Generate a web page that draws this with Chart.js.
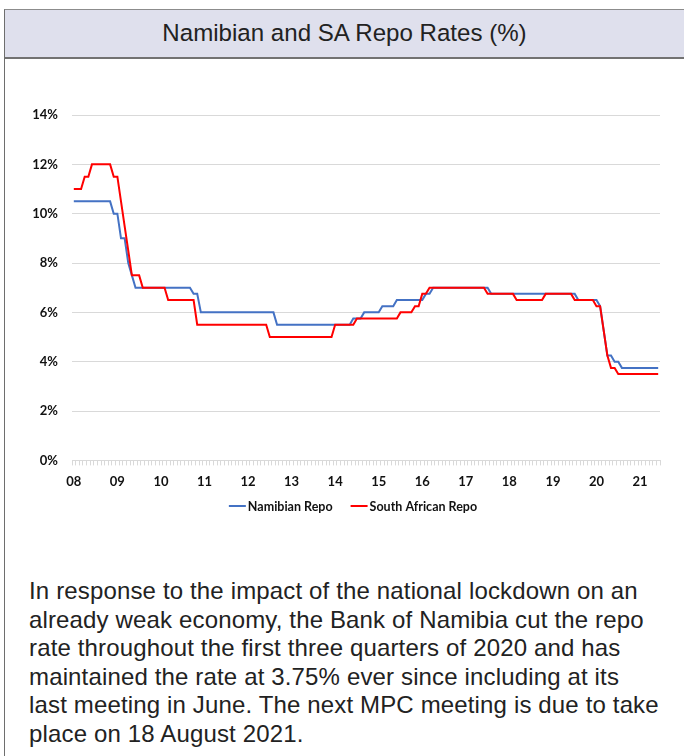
<!DOCTYPE html>
<html>
<head>
<meta charset="utf-8">
<title>Namibian and SA Repo Rates (%)</title>
<script src="https://cdn.jsdelivr.net/npm/chart.js@4/dist/chart.umd.min.js"></script>
<style>
  html, body { margin: 0; padding: 0; background: #ffffff; }
  body { width: 684px; height: 756px; position: relative; overflow: hidden;
         font-family: "Liberation Sans", Arial, Helvetica, sans-serif; }
  .frame { position: absolute; left: 4px; top: 9px; width: 700px; height: 760px;
           border-left: 1px solid #6e6e6e; border-top: 1px solid #8c8c8c; }
  .head { position: absolute; left: 5px; top: 10px; width: 679px; height: 47px;
          background: #dfe0ed; border-bottom: 2px solid #727272; }
  .head span { position: absolute; left: 0; right: 0; top: 10px; text-align: center;
               font-size: 24.1px; line-height: 26px; color: #222222; }
  #wrap { position: absolute; left: 0; top: 60px; width: 684px; height: 470px; }
  .note { position: absolute; left: 29px; top: 577px; font-size: 24px; letter-spacing: 0.15px;
          line-height: 28.6px; color: #222222; white-space: nowrap; }
</style>
</head>
<body>
<div class="frame"></div>
<div class="head"><span>Namibian and SA Repo Rates (%)</span></div>
<div id="wrap"><canvas id="chart" width="684" height="470"></canvas></div>
<div class="note">In response to the impact of the national lockdown on an<br>already weak economy, the Bank of Namibia cut the repo<br>rate throughout the first three quarters of 2020 and has<br>maintained the rate at 3.75% ever since including at its<br>last meeting in June. The next MPC meeting is due to take<br>place on 18 August 2021.</div>
<script>
// Monthly observations, January 2008 to June 2021
const years = ['08','09','10','11','12','13','14','15','16','17','18','19','20','21'];

const namibianRepo = [
  10.5,10.5,10.5,10.5,10.5,10.5,10.5,10.5,10.5,10.5,10.5,10.0,   // 2008
  10.0,9.0,9.0,8.0,7.5,7.0,7.0,7.0,7.0,7.0,7.0,7.0,              // 2009
  7.0,7.0,7.0,7.0,7.0,7.0,7.0,7.0,7.0,6.75,6.75,6.0,             // 2010
  6.0,6.0,6.0,6.0,6.0,6.0,6.0,6.0,6.0,6.0,6.0,6.0,               // 2011
  6.0,6.0,6.0,6.0,6.0,6.0,6.0,6.0,5.5,5.5,5.5,5.5,               // 2012
  5.5,5.5,5.5,5.5,5.5,5.5,5.5,5.5,5.5,5.5,5.5,5.5,               // 2013
  5.5,5.5,5.5,5.5,5.5,5.75,5.75,5.75,6.0,6.0,6.0,6.0,            // 2014
  6.0,6.25,6.25,6.25,6.25,6.5,6.5,6.5,6.5,6.5,6.5,6.5,           // 2015
  6.5,6.75,6.75,7.0,7.0,7.0,7.0,7.0,7.0,7.0,7.0,7.0,             // 2016
  7.0,7.0,7.0,7.0,7.0,7.0,7.0,6.75,6.75,6.75,6.75,6.75,          // 2017
  6.75,6.75,6.75,6.75,6.75,6.75,6.75,6.75,6.75,6.75,6.75,6.75,   // 2018
  6.75,6.75,6.75,6.75,6.75,6.75,6.75,6.5,6.5,6.5,6.5,6.5,        // 2019
  6.5,6.25,5.25,4.25,4.25,4.0,4.0,3.75,3.75,3.75,3.75,3.75,      // 2020
  3.75,3.75,3.75,3.75,3.75,3.75                                  // 2021
];

const southAfricanRepo = [
  11.0,11.0,11.0,11.5,11.5,12.0,12.0,12.0,12.0,12.0,12.0,11.5,   // 2008
  11.5,10.5,9.5,8.5,7.5,7.5,7.5,7.0,7.0,7.0,7.0,7.0,             // 2009
  7.0,7.0,6.5,6.5,6.5,6.5,6.5,6.5,6.5,6.5,5.5,5.5,               // 2010
  5.5,5.5,5.5,5.5,5.5,5.5,5.5,5.5,5.5,5.5,5.5,5.5,               // 2011
  5.5,5.5,5.5,5.5,5.5,5.5,5.0,5.0,5.0,5.0,5.0,5.0,               // 2012
  5.0,5.0,5.0,5.0,5.0,5.0,5.0,5.0,5.0,5.0,5.0,5.0,               // 2013
  5.5,5.5,5.5,5.5,5.5,5.5,5.75,5.75,5.75,5.75,5.75,5.75,         // 2014
  5.75,5.75,5.75,5.75,5.75,5.75,6.0,6.0,6.0,6.0,6.25,6.25,       // 2015
  6.75,6.75,7.0,7.0,7.0,7.0,7.0,7.0,7.0,7.0,7.0,7.0,             // 2016
  7.0,7.0,7.0,7.0,7.0,7.0,6.75,6.75,6.75,6.75,6.75,6.75,         // 2017
  6.75,6.75,6.5,6.5,6.5,6.5,6.5,6.5,6.5,6.5,6.75,6.75,           // 2018
  6.75,6.75,6.75,6.75,6.75,6.75,6.5,6.5,6.5,6.5,6.5,6.5,         // 2019
  6.25,6.25,5.25,4.25,3.75,3.75,3.5,3.5,3.5,3.5,3.5,3.5,         // 2020
  3.5,3.5,3.5,3.5,3.5,3.5                                        // 2021
];

const yTickStep = 2;
const yMax = 14;

// One category per month; only January carries the two-digit year
const monthLabels = namibianRepo.map((_, i) => (i % 12 === 0 ? years[i / 12] : ''));

const boldFace = 'Lato, "Open Sans", sans-serif';
const tickFont = { family: boldFace, weight: 'bold', size: 13 };
const gridGrey = '#d9d9d9';

// Compact series key under the axis: short line swatch, tight gap to the text
const seriesKey = {
  id: 'seriesKey',
  afterDraw(chart, args, opts) {
    const ctx = chart.ctx;
    ctx.save();
    ctx.font = 'bold ' + opts.fontSize + 'px ' + boldFace;
    ctx.textBaseline = 'middle';
    const items = chart.data.datasets.map(ds => ({
      label: ds.label,
      color: ds.borderColor,
      width: ds.borderWidth,
      textW: ctx.measureText(ds.label).width
    }));
    const total = items.reduce((s, it) => s + opts.swatch + opts.textGap + it.textW, 0)
                + opts.itemGap * (items.length - 1);
    let x = opts.centerX - total / 2;
    const y = opts.y;
    items.forEach(it => {
      ctx.strokeStyle = it.color;
      ctx.lineWidth = it.width;
      ctx.beginPath();
      ctx.moveTo(x, y);
      ctx.lineTo(x + opts.swatch, y);
      ctx.stroke();
      ctx.fillStyle = '#111111';
      ctx.fillText(it.label, x + opts.swatch + opts.textGap, y + 0.5);
      x += opts.swatch + opts.textGap + it.textW + opts.itemGap;
    });
    ctx.restore();
  }
};

new Chart(document.getElementById('chart'), {
  type: 'line',
  data: {
    labels: monthLabels,
    datasets: [
      {
        label: 'Namibian Repo',
        data: namibianRepo,
        borderColor: '#4472c4',
        backgroundColor: '#4472c4',
        borderWidth: 2,
        pointRadius: 0,
        tension: 0,
        order: 1
      },
      {
        label: 'South African Repo',
        data: southAfricanRepo,
        borderColor: '#ff0000',
        backgroundColor: '#ff0000',
        borderWidth: 2,
        pointRadius: 0,
        tension: 0,
        order: 0
      }
    ]
  },
  plugins: [seriesKey],
  options: {
    responsive: false,
    animation: false,
    devicePixelRatio: 1,
    layout: { padding: { left: 0, right: 24, top: 55, bottom: 31 } },
    plugins: {
      tooltip: { enabled: false },
      legend: { display: false },
      seriesKey: { centerX: 353, y: 446, fontSize: 12.5, swatch: 17, textGap: 2, itemGap: 18 }
    },
    scales: {
      x: {
        type: 'category',
        offset: true,
        grid: { drawOnChartArea: false, drawTicks: true, tickLength: 5, color: gridGrey, offset: true },
        border: { color: gridGrey },
        ticks: { autoSkip: false, maxRotation: 0, minRotation: 0, padding: 9, color: '#111111', font: tickFont }
      },
      y: {
        min: 0,
        max: yMax,
        grid: { color: gridGrey, drawTicks: false },
        border: { display: false },
        ticks: {
          stepSize: yTickStep,
          padding: 14,
          color: '#111111',
          font: tickFont,
          callback: (v) => v + '%'
        },
        afterFit: (scale) => { scale.width = 72; }
      }
    }
  }
});
</script>
</body>
</html>
